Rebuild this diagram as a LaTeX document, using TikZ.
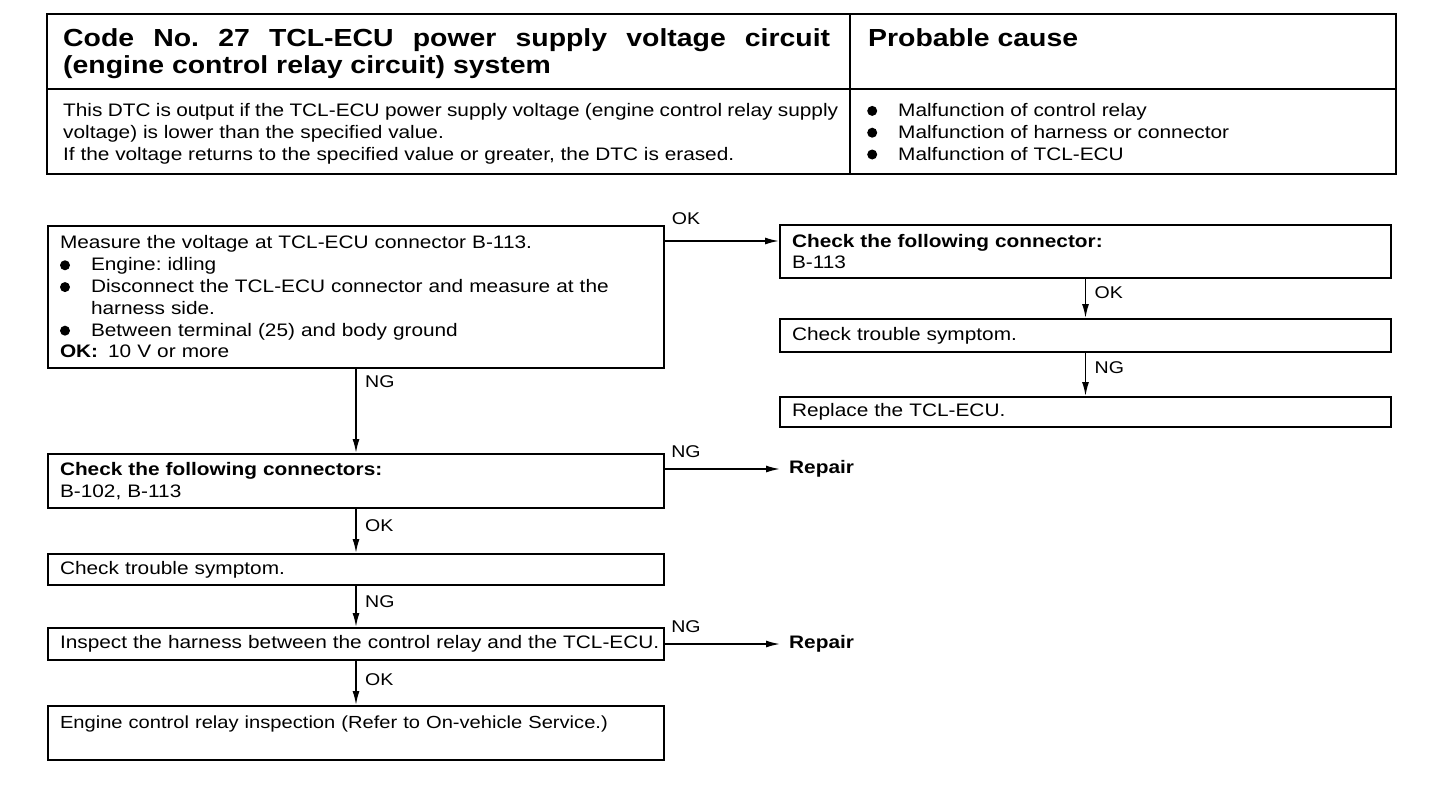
\documentclass[tikz,border=0pt]{standalone}
\usepackage{fontspec}
\setmainfont{Liberation Sans}[FakeStretch=1.15]
\usetikzlibrary{arrows.meta}
\newcommand\myfs{\fontsize{18.1}{21.8}\selectfont}
\newcommand\mytf{\fontsize{24.7}{27}\selectfont\bfseries}
\newcommand\mylf{\fontsize{17}{20}\selectfont}
\newcommand\mybul{\makebox[31pt][l]{\tikz[baseline=0pt]\fill (4.8pt,5.5pt) circle (5pt);}}
\frenchspacing
\begin{document}
\frenchspacing
\begin{tikzpicture}[x=1pt,y=-1pt,
  box/.style={draw,line width=2pt,anchor=north west,inner xsep=12pt,inner ysep=1pt,align=left,font=\myfs},
  lbox/.style={box,minimum width=616pt,text width=592pt},
  rbox/.style={box,minimum width=611pt,text width=587pt},
  txt/.style={inner sep=0pt,anchor=base west,align=left},
  arr/.style={line width=1.6pt,-{Latex[length=14pt,width=7pt]}},
  lbl/.style={font=\mylf,inner sep=0pt},
  rep/.style={font=\myfs\bfseries,anchor=west,inner xsep=9pt,inner ysep=0pt}]
\useasboundingbox (0,0) rectangle (1440,806);
% header table
\draw[line width=2.5pt] (47,14) rectangle (1396,174);
\draw[line width=1.5pt] (850,14) -- (850,174) (47,89) -- (1396,89);
\node[txt,font=\mytf] (title) at (63,73) {\makebox[767pt][s]{Code No. 27 TCL-ECU power supply voltage circuit}\\(engine control relay circuit) system};
\node[txt,font=\mytf] (pc) at (868,46) {Probable cause};
\node[txt,font=\myfs] (desc) at (63,160) {\makebox[775pt][s]{This DTC is output if the TCL-ECU power supply voltage (engine control relay supply}\\voltage) is lower than the specified value.\\If the voltage returns to the specified value or greater, the DTC is erased.};
\node[txt,font=\myfs] (causes) at (867,160) {\mybul Malfunction of control relay\\\mybul Malfunction of harness or connector\\\mybul Malfunction of TCL-ECU};
% flow boxes
\node[lbox,minimum height=142pt] (b1) at (47,225) {Measure the voltage at TCL-ECU connector B-113.\\\mybul Engine: idling\\\mybul Disconnect the TCL-ECU connector and measure at the\\\hspace*{31pt}harness side.\\\mybul Between terminal (25) and body ground\\\textbf{OK:}\hspace{10pt}10 V or more};
\node[rbox,minimum height=53pt] (r1) at (779,224) {\textbf{Check the following connector:}\\B-113};
\node[rbox,minimum height=33pt] (r2) at (779,318) {Check trouble symptom.};
\node[rbox,minimum height=30pt] (r3) at (779,396) {Replace the TCL-ECU.};
\node[lbox,minimum height=54pt] (b2) at (47,453) {\textbf{Check the following connectors:}\\B-102, B-113};
\node[lbox,minimum height=31pt] (b3) at (47,553) {Check trouble symptom.};
\node[lbox,minimum height=32pt] (b4) at (47,627) {\mbox{Inspect the harness between the control relay and the TCL-ECU.}};
\node[lbox,minimum height=54pt] (b5) at (47,705) {{\fontsize{17.5}{21.8}\selectfont Engine control relay inspection (Refer to On-vehicle Service.)}\\\mbox{}};
% connectors
\coordinate (okA) at ([yshift=-16pt]b1.north east);
\draw[arr] (okA) -- (okA -| r1.west);
\node[lbl] (okAl) at ([xshift=21pt,yshift=22pt]okA) {OK};
\draw[arr] (r1.south) -- (r2.north);
\node[lbl,anchor=west] (l12) at ([xshift=9pt,yshift=-14pt]r1.south) {OK};
\draw[arr] (r2.south) -- (r3.north);
\node[lbl,anchor=west] (l23) at ([xshift=9pt,yshift=-15pt]r2.south) {NG};
\draw[arr] (b1.south) -- (b2.north);
\node[lbl,anchor=west] (lb12) at ([xshift=9pt,yshift=-13pt]b1.south) {NG};
\draw[arr] (b2.south) -- (b3.north);
\node[lbl,anchor=west] (lb23) at ([xshift=9pt,yshift=-17pt]b2.south) {OK};
\draw[arr] (b3.south) -- (b4.north);
\node[lbl,anchor=west] (lb34) at ([xshift=9pt,yshift=-16pt]b3.south) {NG};
\draw[arr] (b4.south) -- (b5.north);
\node[lbl,anchor=west] (lb45) at ([xshift=9pt,yshift=-19pt]b4.south) {OK};
\coordinate (ngA) at ([yshift=-16pt]b2.north east);
\node[rep] (rep1) at ([xshift=115pt]ngA) {Repair};
\draw[arr] (ngA) -- (rep1.west);
\node[lbl] (ngAl) at ([xshift=21pt,yshift=17pt]ngA) {NG};
\node[rep] (rep2) at ([xshift=115pt]b4.east) {Repair};
\draw[arr] (b4.east) -- (rep2.west);
\node[lbl] (ngBl) at ([xshift=21pt,yshift=17pt]b4.east) {NG};
\end{tikzpicture}
\end{document}
